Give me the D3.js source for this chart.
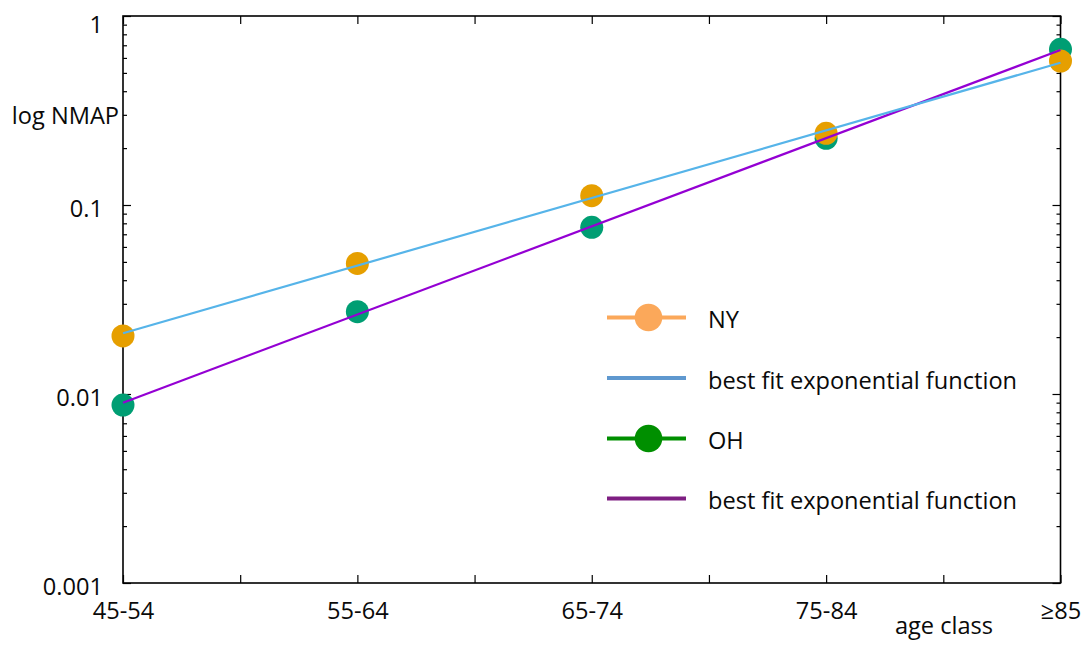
<!DOCTYPE html>
<html>
<head>
<meta charset="utf-8">
<script src="https://cdn.jsdelivr.net/npm/d3@7"></script>
<style>
  html, body { margin: 0; padding: 0; background: #fff; }
  svg { display: block; font-family: "Open Sans", "DejaVu Sans", sans-serif; }
</style>
</head>
<body>
<svg id="chart" width="1083" height="646"></svg>
<script>
// Age classes along the x axis
const ageClasses = ["45-54", "55-64", "65-74", "75-84", "≥85"];

// NMAP per age class (log scale)
const nyValues = [0.0203, 0.0491, 0.112, 0.2395, 0.578];
const ohValues = [0.00874, 0.02725, 0.0762, 0.2254, 0.6665];

// Exponential fits, value at the first and last age class
const nyFit = [0.02096, 0.566];
const ohFit = [0.00899, 0.661];

// Decade ticks on the y axis
const yTicks = [0.001, 0.01, 0.1, 1];
const yTickLabels = ["0.001", "0.01", "0.1", "1"];

// Legend entries
const legendLabels = ["NY", "best fit exponential function", "OH", "best fit exponential function"];

const W = 1083, H = 646;
const plot = { left: 123, right: 1060.5, top: 16, bottom: 583 };

const colors = {
  ny: "#E69F00",
  nyFit: "#56B4E9",
  oh: "#009E73",
  ohFit: "#9400D3",
  legNy: "#FBA85A",
  legNyFit: "#5F98CF",
  legOh: "#008F00",
  legOhFit: "#7E1F82"
};

const svg = d3.select("#chart");

const x = d3.scaleLinear().domain([0, ageClasses.length - 1]).range([plot.left, plot.right]);
const y = d3.scaleLog().domain([yTicks[0], yTicks[yTicks.length - 1]]).range([plot.bottom, plot.top]);

// minor log ticks 2..9 within each decade
const minorTicks = [];
for (let d = 0; d < yTicks.length - 1; d++) {
  for (let m = 2; m <= 9; m++) minorTicks.push(yTicks[d] * m);
}
const xTickVals = d3.range(0, ageClasses.length - 0.99, 0.5);

const axisFont = 23.6;
const textColor = "#0a0a0a";

function styleAxis(g) {
  g.select(".domain").remove();
  g.selectAll(".tick line").attr("stroke", "#000").attr("stroke-width", 1.2);
  g.selectAll("text").attr("font-size", axisFont).attr("fill", textColor)
    .attr("font-family", "'Open Sans', 'DejaVu Sans', sans-serif");
}

// Left axis: major ticks with labels
svg.append("g")
  .attr("transform", `translate(${plot.left},0)`)
  .call(d3.axisLeft(y).tickValues(yTicks).tickSize(-8).tickPadding(20)
    .tickFormat((d, i) => yTickLabels[i]))
  .call(styleAxis)
  .call(g => g.selectAll("text")
    .attr("dy", null)
    .attr("dominant-baseline", "central")
    .attr("y", d => Math.max(y(d), 21) - y(d) + 2));

// Left axis minor ticks
svg.append("g")
  .attr("transform", `translate(${plot.left},0)`)
  .call(d3.axisLeft(y).tickValues(minorTicks).tickSize(-4).tickFormat(""))
  .call(styleAxis);

// Right axis (mirrored ticks, no labels)
svg.append("g")
  .attr("transform", `translate(${plot.right},0)`)
  .call(d3.axisRight(y).tickValues(yTicks).tickSize(-8).tickFormat(""))
  .call(styleAxis);
svg.append("g")
  .attr("transform", `translate(${plot.right},0)`)
  .call(d3.axisRight(y).tickValues(minorTicks).tickSize(-4).tickFormat(""))
  .call(styleAxis);

// Bottom axis
svg.append("g")
  .attr("transform", `translate(0,${plot.bottom})`)
  .call(d3.axisBottom(x).tickValues(xTickVals).tickSize(-8).tickPadding(14)
    .tickFormat(d => Number.isInteger(d) ? ageClasses[d] : ""))
  .call(styleAxis)
  .call(g => g.selectAll("text").attr("dy", null).attr("y", 36));

// Top axis
svg.append("g")
  .attr("transform", `translate(0,${plot.top})`)
  .call(d3.axisTop(x).tickValues(xTickVals).tickSize(-8).tickFormat(""))
  .call(styleAxis);

// Frame
svg.append("rect")
  .attr("x", plot.left).attr("y", plot.top)
  .attr("width", plot.right - plot.left).attr("height", plot.bottom - plot.top)
  .attr("fill", "none").attr("stroke", "#000").attr("stroke-width", 1.6);

// Axis titles
svg.append("text")
  .attr("x", 119).attr("y", 124)
  .attr("text-anchor", "end")
  .attr("font-size", axisFont).attr("fill", textColor)
  .text("log NMAP");

svg.append("text")
  .attr("x", 944).attr("y", 634)
  .attr("text-anchor", "middle")
  .attr("font-size", axisFont).attr("fill", textColor)
  .text("age class");

// Data points
const pointR = 11.5;
svg.append("g").selectAll("circle")
  .data(ohValues).join("circle")
  .attr("cx", (d, i) => x(i)).attr("cy", d => y(d))
  .attr("r", pointR).attr("fill", colors.oh);

svg.append("g").selectAll("circle")
  .data(nyValues).join("circle")
  .attr("cx", (d, i) => x(i)).attr("cy", d => y(d))
  .attr("r", pointR).attr("fill", colors.ny);

// Fit lines from first to last age class
const fitX = [0, ageClasses.length - 1];
const fitLine = d3.line().x((d, i) => x(fitX[i])).y(d => y(d));

svg.append("path").datum(ohFit)
  .attr("d", fitLine).attr("fill", "none")
  .attr("stroke", colors.ohFit).attr("stroke-width", 2.2);

svg.append("path").datum(nyFit)
  .attr("d", fitLine).attr("fill", "none")
  .attr("stroke", colors.nyFit).attr("stroke-width", 2.2);

// Legend
const legendItems = [
  { label: legendLabels[0], color: colors.legNy, marker: true },
  { label: legendLabels[1], color: colors.legNyFit, marker: false },
  { label: legendLabels[2], color: colors.legOh, marker: true },
  { label: legendLabels[3], color: colors.legOhFit, marker: false }
];
const legendRow = [317.5, 378, 438.5, 498.5];

const leg = svg.append("g").selectAll("g")
  .data(legendItems).join("g")
  .attr("transform", (d, i) => `translate(0,${legendRow[i]})`);

leg.append("line")
  .attr("x1", 607).attr("x2", 686).attr("y1", 0).attr("y2", 0)
  .attr("stroke", d => d.color).attr("stroke-width", 4.2);

leg.filter(d => d.marker).append("circle")
  .attr("cx", 648.5).attr("cy", 0).attr("r", 13.8)
  .attr("fill", d => d.color);

leg.append("text")
  .attr("x", 708).attr("y", 10.5)
  .attr("font-size", axisFont).attr("fill", textColor)
  .text(d => d.label);
</script>
</body>
</html>
